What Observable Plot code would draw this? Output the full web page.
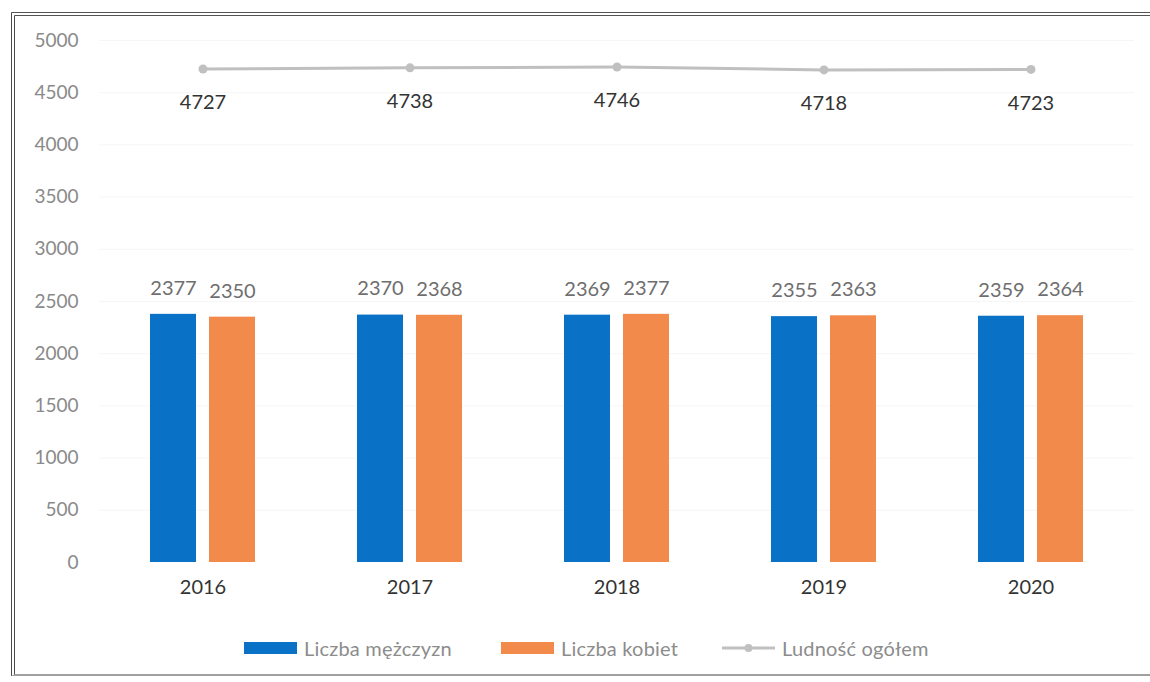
<!DOCTYPE html>
<html>
<head>
<meta charset="utf-8">
<script src="https://cdn.jsdelivr.net/npm/d3@7"></script>
<script src="https://cdn.jsdelivr.net/npm/@observablehq/plot@0.6"></script>
<style>
  html, body { margin: 0; padding: 0; background: #fff; overflow: hidden; }
  body { width: 1150px; height: 682px; position: relative; font-family: Lato, "Open Sans", sans-serif; }
  #frame {
    position: absolute; left: 11px; top: 12px; width: 1139px; height: 664px;
    border-left: 4px double #4a4a4a; border-top: 4px double #555;
    border-bottom: 2px solid #a0a0a0; border-right: none; box-sizing: border-box;
  }
  #chart { position: absolute; left: 0; top: 0; }
  .legend-item { position: absolute; top: 636px; display: flex; align-items: center; height: 24px;
    font-size: 20px; color: #8c8c8c; letter-spacing: 0.2px; }
  .swatch { width: 53px; height: 12px; margin-right: 7px; }
</style>
</head>
<body>
<div id="frame"></div>
<div id="chart"></div>
<div class="legend-item" style="left:244px"><div class="swatch" style="background:#0a72c6"></div>Liczba mężczyzn</div>
<div class="legend-item" style="left:501px"><div class="swatch" style="background:#f28a4b"></div>Liczba kobiet</div>
<div class="legend-item" style="left:722px">
  <svg width="53" height="12" style="margin-right:7px"><line x1="0" y1="6" x2="53" y2="6" stroke="#c0c0c0" stroke-width="3"/><circle cx="26.5" cy="6" r="4" fill="#c0c0c0"/></svg>Ludność ogółem
</div>
<script>
// Ludność według płci, 2016–2020
const years = ["2016", "2017", "2018", "2019", "2020"];
const men = [2377, 2370, 2369, 2355, 2359];
const women = [2350, 2368, 2377, 2363, 2364];
const total = [4727, 4738, 4746, 4718, 4723];
const yTicks = [0, 500, 1000, 1500, 2000, 2500, 3000, 3500, 4000, 4500, 5000];

const blue = "#0a72c6";
const orange = "#f28a4b";
const grey = "#c0c0c0";

const rows = years.map((year, i) => ({year, men: men[i], women: women[i], total: total[i]}));

const chart = Plot.plot({
  width: 1150,
  height: 620,
  marginLeft: 99,
  marginRight: 16,
  marginTop: 40,
  marginBottom: 58,
  style: {fontFamily: "Lato, 'Open Sans', sans-serif", fontSize: "20px", background: "transparent", overflow: "visible"},
  x: {domain: years, paddingInner: 0.493, paddingOuter: 0.244, axis: null},
  y: {domain: [0, 5000], axis: null},
  marks: [
    Plot.gridY(yTicks.slice(1), {stroke: "#f6f6f6", strokeOpacity: 1, strokeWidth: 1}),
    Plot.text(yTicks, {y: d => d, frameAnchor: "left", textAnchor: "end", dx: -21, text: d => String(d), fill: "#8a8a8a", fontSize: 19}),
    Plot.barY(rows, {x: "year", y: "men", fill: blue, insetRight: 59}),
    Plot.barY(rows, {x: "year", y: "women", fill: orange, insetLeft: 59}),
    Plot.text(rows, {x: "year", y: "men", text: d => String(d.men), dx: -29.5, dy: -26, fill: "#6e6e6e", fontSize: 20}),
    Plot.text(rows, {x: "year", y: "women", text: d => String(d.women), dx: 29.5, dy: -26, fill: "#6e6e6e", fontSize: 20}),
    Plot.line(rows, {x: "year", y: "total", stroke: grey, strokeWidth: 3}),
    Plot.dot(rows, {x: "year", y: "total", r: 4.5, fill: grey}),
    Plot.text(rows, {x: "year", y: "total", text: d => String(d.total), dy: 34, fill: "#333", fontSize: 20}),
    Plot.text(years, {x: d => d, frameAnchor: "bottom", dy: 31, text: d => d, fill: "#333", fontSize: 20})
  ]
});
document.getElementById("chart").appendChild(chart);
</script>
</body>
</html>
